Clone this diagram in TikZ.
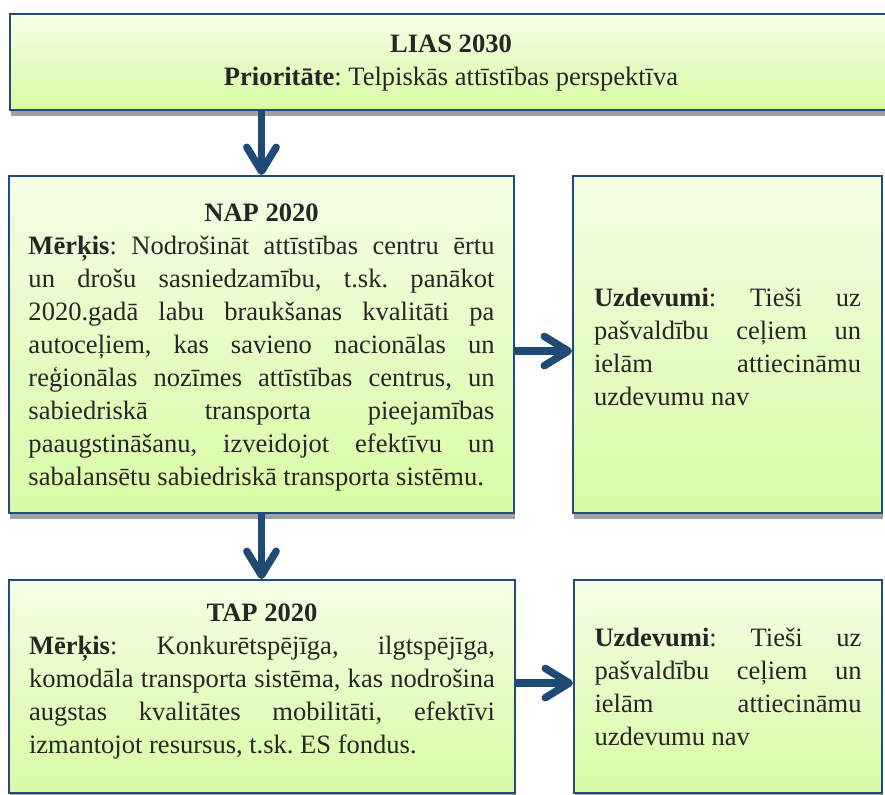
\documentclass[tikz,border=0pt]{standalone}
\usepackage{fontspec}
\setmainfont{Liberation Serif}
\usetikzlibrary{arrows.meta,shadows}
\definecolor{bordc}{HTML}{1F4C79}
\definecolor{arrc}{HTML}{1F4A74}
\definecolor{topg}{HTML}{F5FEE6}
\definecolor{botg}{HTML}{D8FBA4}
\definecolor{txtc}{HTML}{262626}
\newcommand\myjl[1]{\par\noindent\hbox to \hsize{\spaceskip=0pt\xspaceskip=0pt\strut #1}\par}
\newcommand\mycl[1]{\par\noindent\hbox to \hsize{\spaceskip=0pt\xspaceskip=0pt\strut\hfil #1\hfil}\par}
\newcommand\myll[2]{\par\noindent\hbox to \hsize{\spaceskip=0pt\xspaceskip=0pt\strut #1\rule[-#2]{0pt}{1pt}\hfil}\par}
\begin{document}
\begin{tikzpicture}[x=0.75pt,y=-0.75pt,
  box/.style={draw=bordc,line width=1.5pt,rectangle,inner sep=0pt,anchor=north west,
    top color=topg,bottom color=botg,text=txtc,
    font=\fontsize{19.9pt}{24.75pt}\selectfont\frenchspacing,
    drop shadow={shadow xshift=1pt,shadow yshift=-4.5pt,fill=black!37,opacity=1}},
  conn/.style={draw=arrc,line width=5.6pt,-{Straight Barb[length=18pt,width=22pt,round]}}]
\useasboundingbox (0,0) rectangle (885,794);
\node[box,minimum width=661.5pt,minimum height=72pt,text width=600pt] (top) at (9,13)
  {\mycl{\textbf{LIAS 2030}}\myll{\hfil\textbf{Prioritāte}: Telpiskās attīstības perspektīva}{14.9pt}};
\node[box,minimum width=378.75pt,minimum height=252.75pt,text width=349.5pt] (nap) at (8,175)
  {\mycl{\textbf{NAP 2020}}%
   \myjl{\textbf{Mērķis}: Nodrošināt attīstības centru ērtu}%
   \myjl{un drošu sasniedzamību, t.sk. panākot}%
   \myjl{2020.gadā labu braukšanas kvalitāti pa}%
   \myjl{autoceļiem, kas savieno nacionālas un}%
   \myjl{reģionālas nozīmes attīstības centrus, un}%
   \myjl{sabiedriskā transporta pieejamības}%
   \myjl{paaugstināšanu, izveidojot efektīvu un}%
   \myll{sabalansētu sabiedriskā transporta sistēmu.}{11.9pt}};
\node[box,minimum width=231.75pt,minimum height=252.75pt,text width=200.25pt] (ra) at (572,175)
  {\myjl{\textbf{Uzdevumi}: Tieši uz}%
   \myjl{pašvaldību ceļiem un}%
   \myjl{ielām attiecināmu}%
   \myll{uzdevumu nav}{7.4pt}};
\node[box,minimum width=379.5pt,minimum height=159.75pt,text width=349.5pt] (tap) at (8,579)
  {\mycl{\textbf{TAP 2020}}%
   \myjl{\textbf{Mērķis}: Konkurētspējīga, ilgtspējīga,}%
   \myjl{komodāla transporta sistēma, kas nodrošina}%
   \myjl{augstas kvalitātes mobilitāti, efektīvi}%
   \myll{izmantojot resursus, t.sk. ES fondus.}{23pt}};
\node[box,minimum width=231pt,minimum height=159.75pt,text width=200.25pt] (rb) at (573,579)
  {\myjl{\textbf{Uzdevumi}: Tieši uz}%
   \myjl{pašvaldību ceļiem un}%
   \myjl{ielām attiecināmu}%
   \myll{uzdevumu nav}{11.2pt}};
\draw[conn] (top.south -| nap.north) -- (nap.north);
\draw[conn] (nap.south) -- (tap.north -| nap.south);
\draw[conn] ([yshift=-4.9pt]nap.east) -- ([yshift=-4.9pt]ra.west);
\draw[conn] ([yshift=2.6pt]tap.east) -- ([yshift=2.6pt]rb.west);
\end{tikzpicture}
\end{document}
